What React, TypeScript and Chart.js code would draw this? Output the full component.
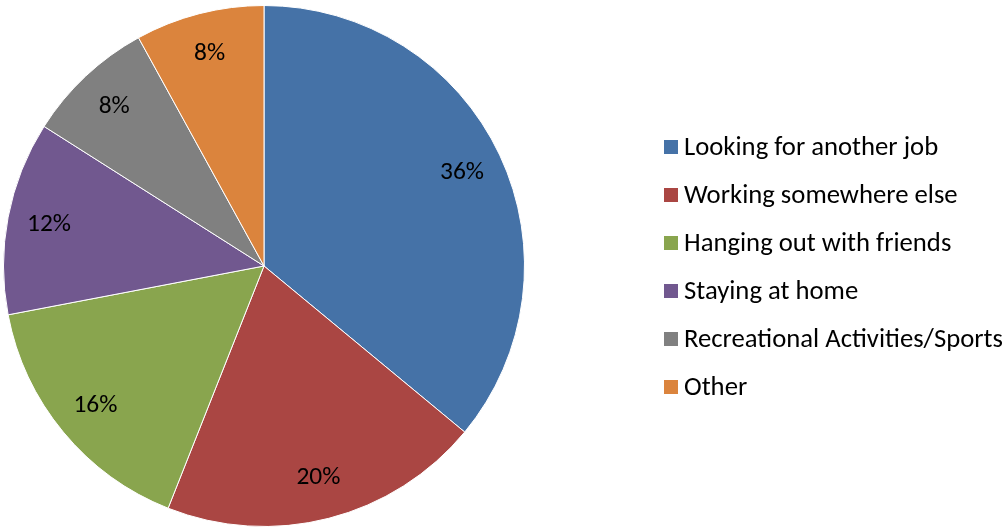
import React, { useEffect, useRef } from "react";
import { Chart, registerables } from "chart.js";

Chart.register(...registerables);

const categories = [
  "Looking for another job",
  "Working somewhere else",
  "Hanging out with friends",
  "Staying at home",
  "Recreational Activities/Sports",
  "Other",
];
const percentValues = [36, 20, 16, 12, 8, 8];
const sliceColors = ["#4572A7", "#AA4643", "#89A54E", "#71588F", "#808080", "#DB843D"];

const FONT = "Carlito, Calibri, Lato, sans-serif";

function fitSize(ctx: CanvasRenderingContext2D, text: string, target: number) {
  ctx.save();
  ctx.font = `20px ${FONT}`;
  const w = ctx.measureText(text).width;
  ctx.restore();
  return (20 * target) / w;
}

const sliceLabelPlugin = {
  id: "sliceLabels",
  afterDatasetsDraw(chart: any) {
    const ctx: CanvasRenderingContext2D = chart.ctx;
    const meta = chart.getDatasetMeta(0);
    const size = fitSize(ctx, "36%", 44);
    ctx.save();
    ctx.font = `${size}px ${FONT}`;
    ctx.fillStyle = "#000";
    ctx.textAlign = "center";
    ctx.textBaseline = "middle";
    meta.data.forEach((arc: any, i: number) => {
      const p = arc.getProps(["x", "y", "startAngle", "endAngle", "outerRadius"], true);
      const mid = (p.startAngle + p.endAngle) / 2;
      const r = p.outerRadius * 0.84;
      const v = chart.data.datasets[0].data[i];
      ctx.fillText(`${v}%`, p.x + Math.cos(mid) * r, p.y + Math.sin(mid) * r);
    });
    ctx.restore();
  },
};

const legendPlugin = {
  id: "sideLegend",
  afterDraw(chart: any) {
    const ctx: CanvasRenderingContext2D = chart.ctx;
    const labels: string[] = chart.data.labels;
    const colors: string[] = chart.data.datasets[0].backgroundColor;
    const size = fitSize(ctx, "Recreational Activities/Sports", 319);
    ctx.save();
    ctx.font = `${size}px ${FONT}`;
    ctx.textAlign = "left";
    ctx.textBaseline = "middle";
    labels.forEach((lab, i) => {
      const cy = 147 + i * 48;
      ctx.fillStyle = colors[i];
      ctx.fillRect(664, cy - 7, 14, 14);
      ctx.fillStyle = "#000";
      ctx.fillText(lab, 684, cy + 1);
    });
    ctx.restore();
  },
};

export default function App() {
  const ref = useRef<HTMLCanvasElement | null>(null);
  useEffect(() => {
    if (!ref.current) return;
    const chart = new Chart(ref.current, {
      type: "pie",
      data: {
        labels: categories,
        datasets: [
          {
            data: percentValues,
            backgroundColor: sliceColors,
            borderColor: "#ffffff",
            borderWidth: 1,
          },
        ],
      },
      options: {
        responsive: false,
        animation: false,
        layout: { padding: { left: 3, top: 5, right: 483, bottom: 0 } },
        plugins: {
          legend: { display: false },
          tooltip: { enabled: false },
        },
      },
      plugins: [sliceLabelPlugin, legendPlugin],
    });
    return () => chart.destroy();
  }, []);
  return (
    <div style={{ position: "fixed", left: 0, top: 0, width: 1008, height: 527, background: "#fff" }}>
      <canvas ref={ref} width={1008} height={527} />
    </div>
  );
}
